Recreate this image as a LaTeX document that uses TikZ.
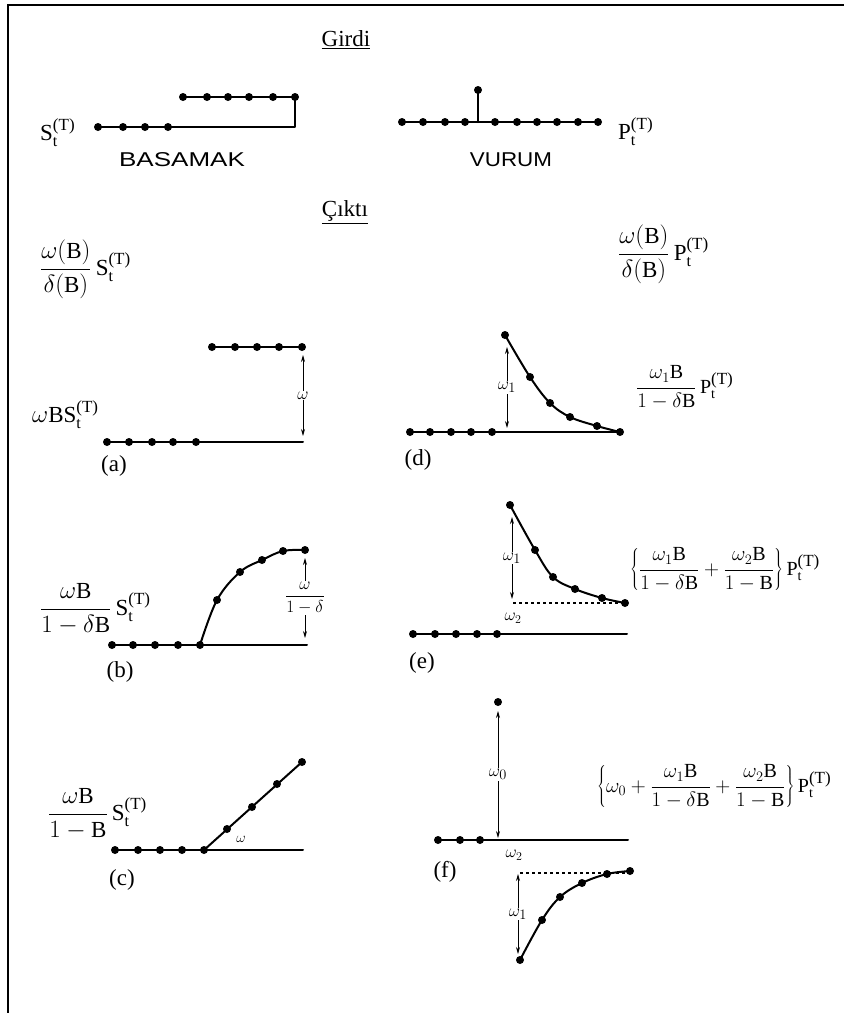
\documentclass[tikz,border=0pt]{standalone}
\usepackage{fontspec}
\setmainfont{Liberation Serif}
\newfontfamily\capsfont{Liberation Sans}
\usetikzlibrary{arrows.meta}

\tikzset{
  curve/.style={line width=2pt, line cap=round, line join=round},
  dimarrow/.style={{Stealth[length=7pt,width=4pt]}-{Stealth[length=7pt,width=4pt]}, line width=0.8pt},
  lbl/.style={font=\fontsize{23}{27}\selectfont, inner sep=0pt},
  bracelbl/.style={font=\fontsize{20}{24}\selectfont, inner sep=0pt},
  capslbl/.style={font=\capsfont\fontsize{20}{24}\selectfont, inner sep=0pt},
  wlabel/.style={font=\fontsize{19}{22}\selectfont, inner sep=1pt, fill=white},
  tinylabel/.style={font=\fontsize{14}{16}\selectfont, inner sep=0pt},
}
\newcommand\dotrow[2]{\foreach \x in {#2} \fill (\x,#1) circle (4pt);}
\newcommand\dotlist[1]{\foreach \p in {#1} \fill \p circle (4pt);}
\newcommand\rB{\mathrm{B}}
\newcommand\supT{\mbox{\fontsize{17}{19}\selectfont(T)}}
\newcommand\stepS{\mathrm{S}_{\mathrm{t}}^{\supT}}
\newcommand\pulseP{\mathrm{P}_{\mathrm{t}}^{\supT}}

\begin{document}
\begin{tikzpicture}[x=1pt,y=-1pt]
    \useasboundingbox (0,0) rectangle (844,1013);
    \draw[line width=2pt] (844,5) -- (8,5) -- (8,1013);

    % Girdi
    \node[lbl] (girdi) at (346,40) {\underline{Girdi}};
    \draw[curve] (97,127) -- (295,127) -- (295,97) -- (183,97);
    \dotrow{127}{98,123,145,168}
    \dotrow{97}{183,207,228,249,273,295}
    \node[lbl, anchor=base west] (stepin) at (40,140) {$\stepS$};
    \node[capslbl] (basamak) at (182,160) {\scalebox{1.3}[1]{BASAMAK}};

    \draw[curve] (402,122) -- (598,122);
    \draw[curve] (478,122) -- (478,90);
    \dotrow{122}{402,423,445,465,495,517,537,557,578,598}
    \fill (478,90) circle (4pt);
    \node[lbl, anchor=base west] (pulsein) at (618,139) {$\pulseP$};
    \node[capslbl] (vurum) at (511,160) {\scalebox{1.12}[1]{VURUM}};

    % Cikti
    \node[lbl] (cikti) at (345,212) {\underline{Çıktı}};
    \node[lbl, anchor=base west] (stepout) at (40,275) {$\displaystyle\frac{\omega(\rB)}{\delta(\rB)}\,\stepS$};
    \node[lbl, anchor=base west] (pulseout) at (618,260) {$\displaystyle\frac{\omega(\rB)}{\delta(\rB)}\,\pulseP$};

    % (a)
    \draw[curve] (107,442) -- (303,442);
    \draw[curve] (212,347) -- (302,347);
    \dotrow{442}{107,129,152,173,196}
    \dotrow{347}{212,235,257,279,302}
    \coordinate (a top) at (303,355);
    \coordinate (a bot) at (303,436);
    \draw[dimarrow] (a top) -- node[wlabel] {$\omega$} (a bot);
    \node[lbl, anchor=base west] (la) at (32,422) {$\omega\rB\stepS$};
    \node[lbl] (tag a) at (114,466) {(a)};

    % (b)
    \draw[curve] (112,645) -- (307,645);
    \dotrow{645}{112,133,155,178,200}
    \draw[curve] plot[smooth, tension=0.6] coordinates {(200,645) (217,600) (240,572) (262,560) (283,551) (305,550)};
    \dotlist{(217,600),(240,572),(262,560),(283,551),(305,550)}
    \coordinate (b top) at (305,558);
    \coordinate (b bot) at (305,638);
    \draw[dimarrow] (b top) -- node[wlabel, font=\fontsize{16}{18}\selectfont] {$\displaystyle\frac{\omega}{1-\delta}$} (b bot);
    \node[lbl, anchor=base west] (lb) at (40,615) {$\displaystyle\frac{\omega\rB}{1-\delta\rB}\,\stepS$};
    \node[lbl] (tag b) at (120,672) {(b)};

    % (c)
    \draw[curve] (115,850) -- (303,850);
    \dotrow{850}{115,138,160,182,204}
    \draw[curve] (204,850) -- (302,762);
    \dotlist{(227,829),(252,807),(277,784),(302,762)}
    \node[tinylabel] (omc) at (241,839) {$\omega$};
    \node[lbl, anchor=base west] (lc) at (48,820) {$\displaystyle\frac{\omega\rB}{1-\rB}\,\stepS$};
    \node[lbl] (tag c) at (122,880) {(c)};

    % (d)
    \draw[curve] (410,432) -- (620,432);
    \dotrow{432}{410,430,451,471,492,620}
    \draw[curve] plot[smooth, tension=0.6] coordinates {(505,335) (530,377) (550,403) (570,417) (597,426) (620,432)};
    \dotlist{(505,335),(530,377),(550,403),(570,417),(597,426)}
    \coordinate (d top) at (507,347);
    \coordinate (d bot) at (507,428);
    \draw[dimarrow] (d top) -- node[wlabel] {$\omega_1$} (d bot);
    \node[bracelbl, anchor=base west] (ld) at (636,393) {$\displaystyle\frac{\omega_1\rB}{1-\delta\rB}\,\pulseP$};
    \node[lbl] (tag d) at (418,460) {(d)};

    % (e)
    \draw[curve] (413,634) -- (627,634);
    \dotrow{634}{413,435,456,477,497}
    \draw[dashed, line width=1.5pt] (513,603) -- (625,603);
    \draw[curve] plot[smooth, tension=0.6] coordinates {(510,505) (535,550) (553,577) (575,589) (602,598) (625,603)};
    \dotlist{(510,505),(535,550),(553,577),(575,589),(602,598),(625,603)}
    \coordinate (e top) at (512,517);
    \coordinate (e bot) at (512,599);
    \draw[dimarrow] (e top) -- node[wlabel] {$\omega_1$} (e bot);
    \node[tinylabel, font=\fontsize{17}{19}\selectfont] (ome) at (513,618) {$\omega_2$};
    \node[bracelbl, anchor=base west] (le) at (630,575) {$\displaystyle\left\{\frac{\omega_1\rB}{1-\delta\rB}+\frac{\omega_2\rB}{1-\rB}\right\}\pulseP$};
    \node[lbl] (tag e) at (422,663) {(e)};

    % (f)
    \draw[curve] (438,840) -- (628,840);
    \dotrow{840}{438,460,480}
    \fill (498,702) circle (4pt);
    \coordinate (f top) at (498,711);
    \coordinate (f base) at (498,838);
    \draw[dimarrow] (f top) -- node[wlabel] {$\omega_0$} (f base);
    \node[tinylabel, font=\fontsize{17}{19}\selectfont] (omf) at (514,855) {$\omega_2$};
    \draw[dashed, line width=1.5pt] (520,873) -- (630,873);
    \draw[curve] plot[smooth, tension=0.6] coordinates {(520,960) (542,920) (560,897) (582,883) (607,874) (630,871)};
    \dotlist{(520,960),(542,920),(560,897),(582,883),(607,874),(630,871)}
    \coordinate (f up) at (518,874);
    \coordinate (f low) at (518,954);
    \draw[dimarrow] (f up) -- node[wlabel] {$\omega_1$} (f low);
    \node[bracelbl, anchor=base west] (lf) at (597,792) {$\displaystyle\left\{\omega_0+\frac{\omega_1\rB}{1-\delta\rB}+\frac{\omega_2\rB}{1-\rB}\right\}\pulseP$};
    \node[lbl] (tag f) at (445,872) {(f)};
\end{tikzpicture}
\end{document}
